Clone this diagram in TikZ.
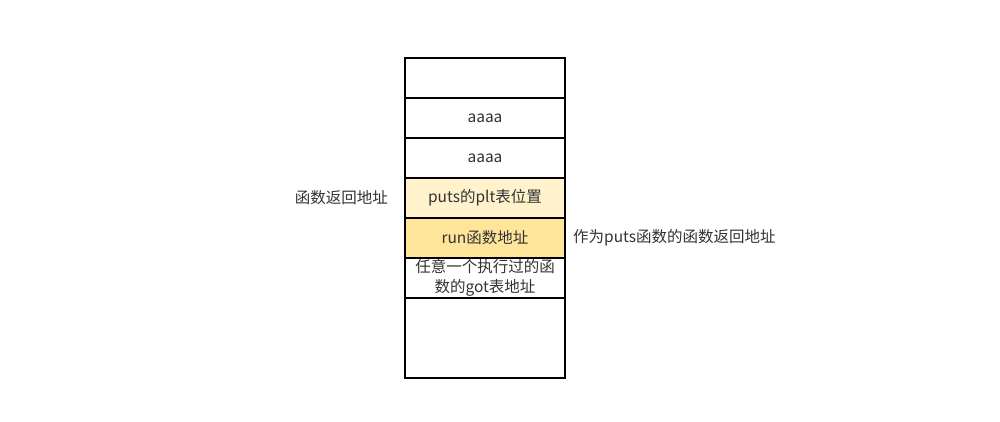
\documentclass[tikz,border=0pt]{standalone}
\usepackage{fontspec}
\setmainfont{Noto Sans CJK SC}
\usetikzlibrary{positioning}
\definecolor{pltfill}{HTML}{FFF2CC}
\definecolor{runfill}{HTML}{FFE599}
\definecolor{txt}{HTML}{333333}
\tikzset{
    cell/.style={draw, line width=1.5pt, minimum width=160pt, minimum height=40pt,
        inner sep=0pt, outer sep=0pt, align=center, text=txt,
        font=\fontsize{15.5pt}{20pt}\selectfont},
    note/.style={font=\fontsize{15.5pt}{20pt}\selectfont, text=txt, inner sep=0pt}
}
\begin{document}
\begin{tikzpicture}[x=1pt,y=1pt]
                    \useasboundingbox (0,0) rectangle (1000,-422);

                    \node[cell] (top) at (485,-78) {};
                    \node[cell, below=0pt of top] (a1) {aaaa};
                    \node[cell, below=0pt of a1] (a2) {aaaa};
                    \node[cell, fill=pltfill, below=0pt of a2] (plt) {puts的plt表位置};
                    \node[cell, fill=runfill, below=0pt of plt] (run) {run函数地址};
                    \node[cell, below=0pt of run] (got) {任意一个执行过的函\\数的got表地址};
                    \node[cell, minimum height=80pt, below=0pt of got] (bottom) {};

                    \node[note, left=17pt of plt] (ret) {函数返回地址};
                    \node[note, right=8pt of run] (retnote) {作为puts函数的函数返回地址};
                \end{tikzpicture}
\end{document}
